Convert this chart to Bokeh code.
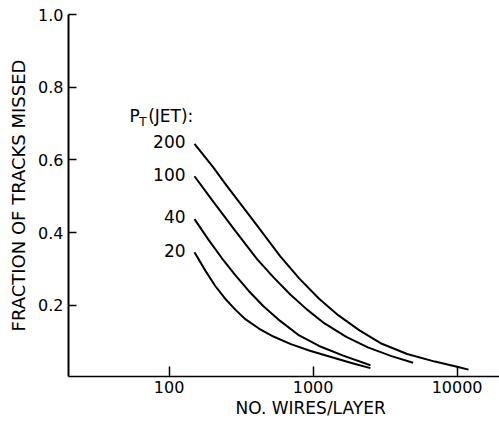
from bokeh.plotting import figure
from bokeh.models import Range1d, FixedTicker, Title, BasicTickFormatter
from bokeh.core.properties import value
from bokeh.embed import file_html
from bokeh.resources import INLINE

# ---- data ----
pt_names = ["200", "100", "40", "20"]
x_200 = [150, 202, 250, 400, 590, 800, 1100, 1500, 2100, 3000, 4500, 7000, 10000, 12000]
y_200 = [0.644, 0.580, 0.530, 0.424, 0.335, 0.274, 0.218, 0.172, 0.131, 0.094, 0.066, 0.045, 0.031, 0.023]
x_100 = [150, 200, 289, 408, 533, 697, 908, 1200, 1700, 2400, 3500, 4950]
y_100 = [0.555, 0.488, 0.404, 0.327, 0.276, 0.229, 0.188, 0.150, 0.113, 0.084, 0.060, 0.042]
x_40 = [150, 188, 232, 288, 356, 450, 590, 800, 1100, 1600, 2500]
y_40 = [0.437, 0.380, 0.330, 0.283, 0.240, 0.198, 0.157, 0.117, 0.088, 0.062, 0.035]
x_20 = [150, 178, 209, 245, 288, 340, 420, 530, 700, 950, 1350, 1900, 2500]
y_20 = [0.346, 0.296, 0.253, 0.218, 0.188, 0.161, 0.136, 0.114, 0.093, 0.075, 0.057, 0.040, 0.027]
x_ticks = [100, 1000, 10000]
x_tick_labels = ["100", "1000", "10000"]
y_ticks = [0.2, 0.4, 0.6, 0.8, 1.0]
y_tick_labels = ["0.2", "0.4", "0.6", "0.8", "1.0"]

FONT = "DejaVu Sans"

p = figure(width=499, height=426, x_axis_type="log",
           x_range=Range1d(20, 19700), y_range=Range1d(0.004, 1.0),
           output_backend="svg", toolbar_location=None,
           min_border_left=68, min_border_right=0, min_border_top=14, min_border_bottom=50)
p.outline_line_color = None
p.grid.visible = False
p.background_fill_color = "white"
p.border_fill_color = "white"

# axes
p.xaxis.ticker = FixedTicker(ticks=x_ticks)
p.xaxis.major_label_overrides = {t: l for t, l in zip(x_ticks, x_tick_labels)}
p.yaxis.ticker = FixedTicker(ticks=y_ticks)
p.yaxis.formatter = BasicTickFormatter(precision=1)
p.yaxis.major_label_overrides = {t: l for t, l in zip(y_ticks, y_tick_labels)}
for ax in (p.xaxis, p.yaxis):
    ax.major_tick_out = 0
    ax.minor_tick_line_color = None
    ax.axis_line_color = "black"
    ax.major_tick_line_color = "black"
    ax.major_label_text_font = FONT
    ax.major_label_text_font_size = "16px"
    ax.major_label_text_color = "black"
    ax.major_tick_line_width = 1.5
p.xaxis.major_tick_in = 10
p.yaxis.major_tick_in = 8
p.xaxis.axis_line_width = 1.6
p.yaxis.axis_line_width = 2
p.xaxis.major_label_standoff = 4
p.yaxis.major_label_standoff = 5

p.yaxis.axis_label = "FRACTION OF TRACKS MISSED"
p.yaxis.axis_label_text_font = FONT
p.yaxis.axis_label_text_font_size = "18px"
p.yaxis.axis_label_text_font_style = "normal"
p.yaxis.axis_label_text_color = "black"
p.yaxis.axis_label_standoff = 6

p.add_layout(Title(text="NO. WIRES/LAYER", align="left", offset=167, standoff=0,
                   text_font=FONT, text_font_size="17px", text_font_style="normal",
                   text_color="black"), "below")

# curves
series = [(x_200, y_200), (x_100, y_100), (x_40, y_40), (x_20, y_20)]
for xs, ys in series:
    p.line(xs, ys, line_color="black", line_width=2, line_join="round")

# curve labels
p.text(x=[130] * 4, y=[ys[0] + 0.006 for _, ys in series], text=pt_names,
       text_align="right", text_baseline="middle", text_font=value(FONT),
       text_font_size="17px", text_color="black")

# P_T (JET): header
p.text(x=[53], y=[0.722], text=["P"], text_align="left", text_baseline="middle",
       text_font=value(FONT), text_font_size="17px", text_color="black")
p.text(x=[62], y=[0.703], text=["T"], text_align="left", text_baseline="middle",
       text_font=value(FONT), text_font_size="12px", text_color="black")
p.text(x=[71.5], y=[0.722], text=["(JET):"], text_align="left", text_baseline="middle",
       text_font=value(FONT), text_font_size="17px", text_color="black")

open("out.html", "w").write(file_html(p, INLINE))
